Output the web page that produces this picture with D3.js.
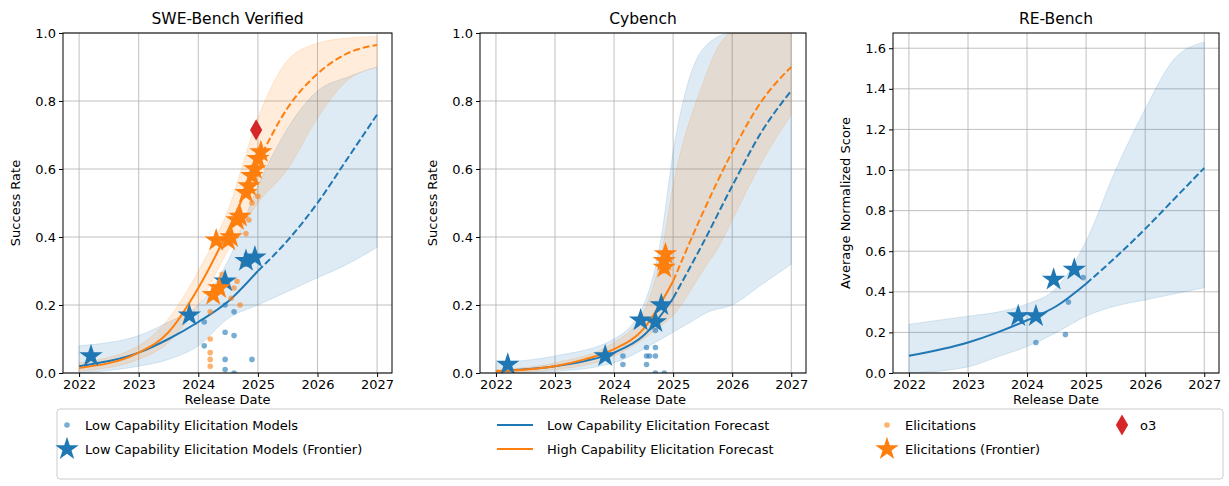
<!DOCTYPE html>
<html><head><meta charset="utf-8">
<script src="https://cdn.jsdelivr.net/npm/d3@7"></script>
<style>body{margin:0;background:#fff;font-family:"DejaVu Sans",sans-serif}</style>
</head><body><div id="chart"></div>
<script>
const BLUE = '#1f77b4', ORANGE = '#ff7f0e';
const fitYears = [2022, 2023, 2023.5, 2024, 2024.5, 2025, 2025.5, 2026, 2026.5, 2027];

// SWE-Bench Verified
const sweLowFit = [0.02, 0.06, 0.1, 0.15, 0.21, 0.3, 0.39, 0.5, 0.63, 0.76];
const sweHighFit = [0.015, 0.06, 0.12, 0.25, 0.42, 0.62, 0.78, 0.88, 0.94, 0.965];
const sweLowBand = [[2022, 0, 0.08], [2023, 0.02, 0.11], [2023.5, 0.04, 0.15], [2024, 0.08, 0.2], [2024.5, 0.16, 0.33], [2025, 0.2, 0.55], [2025.5, 0.24, 0.72], [2026, 0.28, 0.83], [2026.5, 0.32, 0.87], [2027, 0.37, 0.9]];
const sweHighBand = [[2022, 0.005, 0.03], [2023, 0.04, 0.08], [2023.5, 0.09, 0.16], [2024, 0.2, 0.3], [2024.5, 0.36, 0.48], [2025, 0.5, 0.75], [2025.5, 0.6, 0.92], [2026, 0.75, 0.97], [2026.5, 0.86, 0.985], [2027, 0.9, 0.99]];
const sweLowDots = [[2024.1, 0.15], [2024.1, 0.08], [2024.45, 0.2], [2024.45, 0.12], [2024.45, 0.04], [2024.45, 0.01], [2024.6, 0.11], [2024.6, 0.0], [2024.6, 0.18], [2024.9, 0.04], [2024.8, 0.32], [2024.85, 0.32]];
const sweLowStars = [[2022.2, 0.05], [2023.85, 0.17], [2024.45, 0.27], [2024.8, 0.33], [2024.95, 0.34]];
const sweHighDots = [[2024.2, 0.18], [2024.2, 0.1], [2024.2, 0.06], [2024.2, 0.04], [2024.2, 0.02], [2024.4, 0.29], [2024.45, 0.27], [2024.55, 0.22], [2024.6, 0.25], [2024.65, 0.27], [2024.7, 0.2], [2024.75, 0.32], [2024.8, 0.41], [2024.85, 0.45], [2024.9, 0.5], [2025.0, 0.52]];
const sweHighStars = [[2024.25, 0.23], [2024.35, 0.25], [2024.3, 0.39], [2024.5, 0.39], [2024.55, 0.4], [2024.65, 0.45], [2024.7, 0.46], [2024.8, 0.53], [2024.85, 0.55], [2024.9, 0.58], [2024.95, 0.6], [2025.0, 0.63], [2025.05, 0.65]];
const sweO3 = [[2024.97, 0.715]];

// Cybench
const cyLowFit = [0.005, 0.02, 0.035, 0.06, 0.11, 0.22, 0.38, 0.55, 0.71, 0.83];
const cyHighFit = [0.005, 0.02, 0.04, 0.07, 0.13, 0.27, 0.47, 0.65, 0.8, 0.9];
const cyLowBand = [[2022, 0, 0.03], [2023, 0.005, 0.05], [2024, 0.03, 0.1], [2024.5, 0.07, 0.2], [2024.8, 0.1, 0.4], [2025, 0.12, 0.65], [2025.3, 0.15, 0.88], [2025.6, 0.18, 0.97], [2026, 0.2, 1.0], [2026.5, 0.26, 1.0], [2027, 0.32, 1.0]];
const cyHighBand = [[2022, 0, 0.01], [2023, 0.01, 0.03], [2024, 0.05, 0.09], [2024.5, 0.1, 0.18], [2024.8, 0.14, 0.35], [2025, 0.17, 0.55], [2025.5, 0.3, 0.85], [2025.8, 0.38, 0.97], [2026, 0.45, 1.0], [2026.5, 0.62, 1.0], [2027, 0.76, 1.0]];
const cyLowDots = [[2024.15, 0.05], [2024.15, 0.025], [2024.55, 0.075], [2024.55, 0.05], [2024.55, 0.025], [2024.6, 0.05], [2024.7, 0.05], [2024.7, 0.075], [2024.7, 0.125], [2024.7, 0.0], [2024.85, 0.0]];
const cyLowStars = [[2022.2, 0.025], [2023.85, 0.05], [2024.45, 0.155], [2024.7, 0.15], [2024.8, 0.2]];
const cyHighDots = [[2024.85, 0.3]];
const cyHighStars = [[2024.85, 0.31], [2024.85, 0.33], [2024.87, 0.35]];

// RE-Bench
const reLowFit = [0.085, 0.15, 0.2, 0.26, 0.33, 0.44, 0.57, 0.71, 0.86, 1.01];
const reLowBand = [[2022, 0.0, 0.24], [2023, 0.03, 0.28], [2023.5, 0.08, 0.3], [2024, 0.13, 0.34], [2024.5, 0.2, 0.42], [2025, 0.28, 0.65], [2025.5, 0.33, 1.0], [2026, 0.36, 1.3], [2026.5, 0.39, 1.55], [2027, 0.42, 1.63]];
const reLowDots = [[2024.15, 0.15], [2024.65, 0.19], [2024.7, 0.35], [2024.95, 0.47]];
const reLowStars = [[2023.85, 0.28], [2024.15, 0.28], [2024.45, 0.46], [2024.8, 0.51]];

const xTicks = [2022, 2023, 2024, 2025, 2026, 2027];

const svg = d3.select('#chart').append('svg').attr('width', 1229).attr('height', 486)
  .style('font-family', '"DejaVu Sans",sans-serif');

const panels = [
  { title: 'SWE-Bench Verified', left: 63, right: 392, ymax: 1.0, yTicks: d3.range(0, 1.01, 0.2), ylabel: 'Success Rate',
    series: [
      { color: BLUE, fit: sweLowFit, band: sweLowBand, dots: sweLowDots, stars: sweLowStars },
      { color: ORANGE, fit: sweHighFit, band: sweHighBand, dots: sweHighDots, stars: sweHighStars }], o3: sweO3 },
  { title: 'Cybench', left: 480, right: 806, ymax: 1.0, yTicks: d3.range(0, 1.01, 0.2), ylabel: 'Success Rate',
    series: [
      { color: BLUE, fit: cyLowFit, band: cyLowBand, dots: cyLowDots, stars: cyLowStars },
      { color: ORANGE, fit: cyHighFit, band: cyHighBand, dots: cyHighDots, stars: cyHighStars }] },
  { title: 'RE-Bench', left: 893, right: 1219, ymax: 1.675, yTicks: d3.range(0, 1.61, 0.2), ylabel: 'Average Normalized Score',
    series: [{ color: BLUE, fit: reLowFit, band: reLowBand, dots: reLowDots, stars: reLowStars }] }
];

const plotTop = 33, plotBottom = 373;
const star = d3.symbol().type(d3.symbolStar).size(170);

panels.forEach((p, pi) => {
  const x = d3.scaleLinear().domain([2021.73, 2027.25]).range([p.left, p.right]);
  const y = d3.scaleLinear().domain([0, p.ymax]).range([plotBottom, plotTop]);
  const g = svg.append('g');
  const cid = 'clip' + pi;
  g.append('clipPath').attr('id', cid).append('rect')
    .attr('x', p.left).attr('y', plotTop).attr('width', p.right - p.left).attr('height', plotBottom - plotTop);

  // grid
  g.selectAll('.gx').data(xTicks).join('line').attr('x1', d => x(d)).attr('x2', d => x(d))
    .attr('y1', plotTop).attr('y2', plotBottom).attr('stroke', '#b0b0b0').attr('stroke-width', 0.8);
  g.selectAll('.gy').data(p.yTicks).join('line').attr('y1', d => y(d)).attr('y2', d => y(d))
    .attr('x1', p.left).attr('x2', p.right).attr('stroke', '#b0b0b0').attr('stroke-width', 0.8);

  const pg = g.append('g').attr('clip-path', `url(#${cid})`);
  p.series.forEach(s => {
    pg.append('path').datum(s.band)
      .attr('d', d3.area().x(d => x(d[0])).y0(d => y(d[1])).y1(d => y(d[2])).curve(d3.curveMonotoneX))
      .attr('fill', s.color).attr('fill-opacity', 0.15).attr('stroke', s.color).attr('stroke-opacity', 0.15);
  });
  p.series.forEach(s => {
    const pts = fitYears.map((yr, i) => [yr, s.fit[i]]);
    const line = d3.line().x(d => x(d[0])).y(d => y(d[1])).curve(d3.curveMonotoneX);
    pg.append('path').datum(pts.filter(d => d[0] <= 2025)).attr('d', line)
      .attr('fill', 'none').attr('stroke', s.color).attr('stroke-width', 2);
    pg.append('path').datum(pts.filter(d => d[0] >= 2025)).attr('d', line)
      .attr('fill', 'none').attr('stroke', s.color).attr('stroke-width', 2).attr('stroke-dasharray', '7,3');
  });
  p.series.forEach(s => {
    pg.selectAll(null).data(s.dots).join('circle').attr('cx', d => x(d[0])).attr('cy', d => y(d[1]))
      .attr('r', 2.8).attr('fill', s.color).attr('fill-opacity', 0.6);
  });
  p.series.forEach(s => {
    pg.selectAll(null).data(s.stars).join('path').attr('d', star)
      .attr('transform', d => `translate(${x(d[0])},${y(d[1])})`).attr('fill', s.color);
  });
  if (p.o3) {
    pg.selectAll(null).data(p.o3).join('path').attr('d', d3.symbol().type(d3.symbolDiamond).size(130))
      .attr('transform', d => `translate(${x(d[0])},${y(d[1])})`).attr('fill', '#d62728');
  }

  g.append('rect').attr('x', p.left).attr('y', plotTop).attr('width', p.right - p.left).attr('height', plotBottom - plotTop)
    .attr('fill', 'none').attr('stroke', '#000').attr('stroke-width', 1);

  g.append('g').attr('transform', `translate(0,${plotBottom})`)
    .call(d3.axisBottom(x).tickValues(xTicks).tickFormat(d3.format('d')).tickSizeOuter(0).tickSize(4))
    .call(a => a.select('.domain').remove())
    .selectAll('text').attr('font-size', 13).attr('fill', '#000').attr('font-family', '"DejaVu Sans",sans-serif');
  g.append('g').attr('transform', `translate(${p.left},0)`)
    .call(d3.axisLeft(y).tickValues(p.yTicks).tickFormat(d3.format('.1f')).tickSizeOuter(0).tickSize(4))
    .call(a => a.select('.domain').remove())
    .selectAll('text').attr('font-size', 13).attr('fill', '#000').attr('font-family', '"DejaVu Sans",sans-serif');

  g.append('text').attr('x', (p.left + p.right) / 2).attr('y', 24).attr('text-anchor', 'middle')
    .attr('font-size', 15.5).text(p.title);
  g.append('text').attr('x', (p.left + p.right) / 2).attr('y', 404).attr('text-anchor', 'middle')
    .attr('font-size', 13).text('Release Date');
  g.append('text').attr('transform', `translate(${p.left - 43},${(plotTop + plotBottom) / 2}) rotate(-90)`)
    .attr('text-anchor', 'middle').attr('font-size', 13).text(p.ylabel);
});

// legend
const lg = svg.append('g');
lg.append('rect').attr('x', 57).attr('y', 409).attr('width', 1166).attr('height', 70).attr('rx', 3)
  .attr('fill', '#fff').attr('stroke', '#ccc');
const legendItems = [
  { x: 67, y: 425, kind: 'dot', color: BLUE, label: 'Low Capability Elicitation Models' },
  { x: 67, y: 449, kind: 'star', color: BLUE, label: 'Low Capability Elicitation Models (Frontier)' },
  { x: 515, y: 425, kind: 'line', color: BLUE, label: 'Low Capability Elicitation Forecast' },
  { x: 515, y: 449, kind: 'line', color: ORANGE, label: 'High Capability Elicitation Forecast' },
  { x: 887, y: 425, kind: 'dot', color: ORANGE, label: 'Elicitations' },
  { x: 887, y: 449, kind: 'star', color: ORANGE, label: 'Elicitations (Frontier)' },
  { x: 1122, y: 425, kind: 'diamond', color: '#d62728', label: 'o3' }
];
legendItems.forEach(it => {
  if (it.kind === 'dot') lg.append('circle').attr('cx', it.x).attr('cy', it.y).attr('r', 2.8).attr('fill', it.color).attr('fill-opacity', 0.6);
  if (it.kind === 'star') lg.append('path').attr('d', star).attr('transform', `translate(${it.x},${it.y})`).attr('fill', it.color);
  if (it.kind === 'diamond') lg.append('path').attr('d', d3.symbol().type(d3.symbolDiamond).size(130)).attr('transform', `translate(${it.x},${it.y})`).attr('fill', it.color);
  if (it.kind === 'line') lg.append('line').attr('x1', it.x - 18).attr('x2', it.x + 18).attr('y1', it.y).attr('y2', it.y).attr('stroke', it.color).attr('stroke-width', 2);
  lg.append('text').attr('x', it.kind === 'line' ? it.x + 32 : it.x + 18).attr('y', it.y + 4.5).attr('font-size', 13).text(it.label);
});
</script></body></html>
